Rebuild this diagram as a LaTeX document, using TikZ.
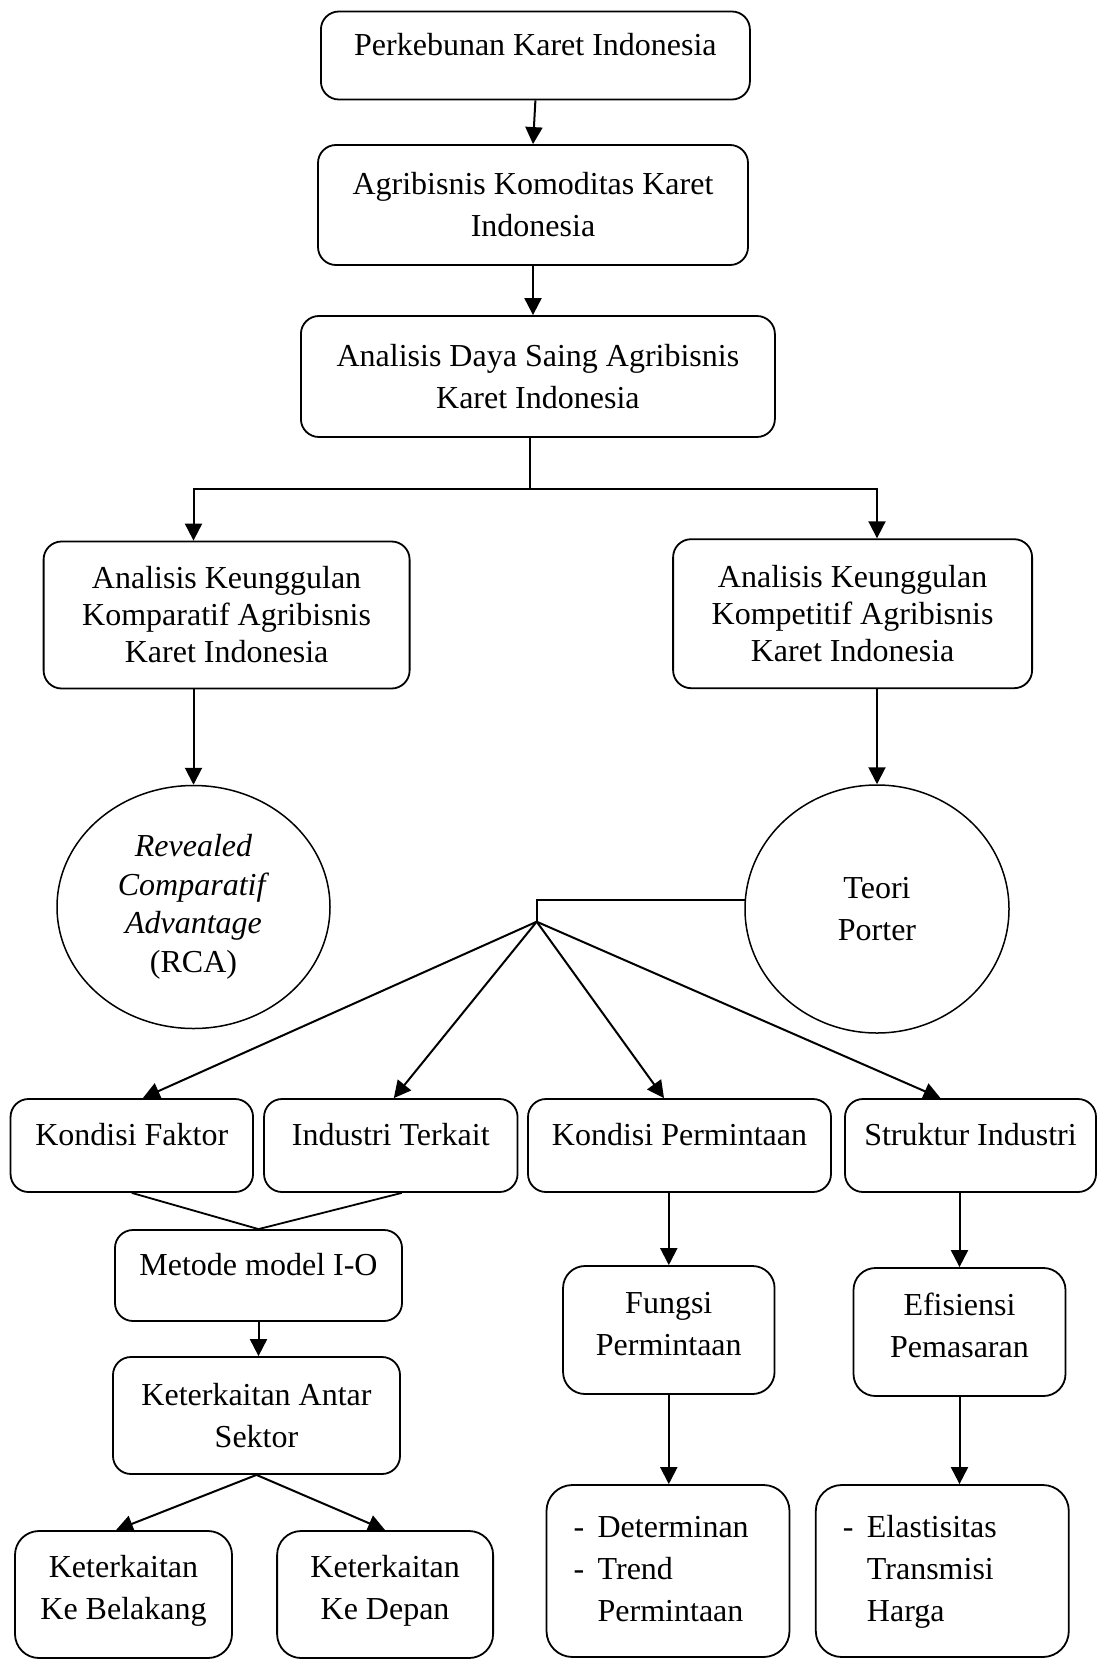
\documentclass[tikz,border=0pt]{standalone}
\usepackage{fontspec}
\setmainfont{Liberation Serif}
\usetikzlibrary{shapes.geometric, arrows.meta}

\tikzset{
    kotak/.style={draw, rounded corners=18pt, line width=1.8pt, align=center, inner sep=0pt},
    satu/.style={text height=20pt, text depth=20pt},
    bulat/.style={draw, ellipse, line width=1.5pt, align=center, inner sep=0pt},
    daftar/.style={kotak, rounded corners=26pt, align=left, inner xsep=27pt, minimum height=172pt},
    panah/.style={->, line width=2pt},
    garis/.style={line width=1.8pt},
}

\begin{document}
\begin{tikzpicture}[x=1pt, y=-1pt, >={Triangle[length=17pt, width=17pt]},
    every node/.style={font=\fontsize{32}{42}\selectfont}]
    \useasboundingbox (0,0) rectangle (1097,1659);

    % top chain
    \node[kotak, satu, minimum width=429pt, minimum height=88pt] (kebun) at (535.4,55.5) {Perkebunan Karet Indonesia};
    \node[kotak, minimum width=430pt, minimum height=120pt] (agri) at (533,205) {Agribisnis Komoditas Karet\\Indonesia};
    \node[kotak, minimum width=474pt, minimum height=121pt] (saing) at (537.9,376.5) {Analisis Daya Saing Agribisnis\\Karet Indonesia};

    % the two analyses
    \node[kotak, minimum width=366pt, minimum height=147pt, font=\fontsize{32}{37}\selectfont] (komp) at (226.6,615) {Analisis Keunggulan\\Komparatif Agribisnis\\Karet Indonesia};
    \node[kotak, minimum width=359pt, minimum height=149pt, font=\fontsize{32}{37}\selectfont] (kompe) at (852.6,613.7) {Analisis Keunggulan\\Kompetitif Agribisnis\\Karet Indonesia};

    % methods
    \node[bulat, minimum width=273pt, minimum height=243pt, font=\fontsize{32}{38.5}\selectfont] (rca) at (193.5,907) {\textit{Revealed}\\\textit{Comparatif}\\\textit{Advantage}\\(RCA)};
    \node[bulat, minimum width=264pt, minimum height=248pt] (porter) at (877,909) {Teori\\Porter};

    % porter factors
    \node[kotak, satu, minimum width=242.5pt, minimum height=93pt] (faktor) at (131.8,1145.5) {Kondisi Faktor};
    \node[kotak, satu, minimum width=253.5pt, minimum height=93pt] (terkait) at (390.8,1145.5) {Industri Terkait};
    \node[kotak, satu, minimum width=303pt, minimum height=93pt] (minta) at (679.5,1145.5) {Kondisi Permintaan};
    \node[kotak, satu, minimum width=251pt, minimum height=93pt] (struktur) at (970.5,1145.5) {Struktur Industri};

    % left branch
    \node[kotak, satu, minimum width=287pt, minimum height=91pt] (io) at (258.5,1275.5) {Metode model I-O};
    \node[kotak, minimum width=287pt, minimum height=117pt] (antar) at (256.5,1415.5) {Keterkaitan Antar\\Sektor};
    \node[kotak, rounded corners=24pt, text depth=15pt, minimum width=217pt, minimum height=127pt] (belakang) at (123.5,1594.5) {Keterkaitan\\Ke Belakang};
    \node[kotak, rounded corners=24pt, text depth=15pt, minimum width=216pt, minimum height=127pt] (depan) at (385.1,1594.5) {Keterkaitan\\Ke Depan};

    % right branches
    \node[kotak, rounded corners=22pt, text depth=13pt, minimum width=211.5pt, minimum height=128pt] (fungsi) at (668.8,1330) {Fungsi\\Permintaan};
    \node[kotak, rounded corners=22pt, text depth=14pt, minimum width=212pt, minimum height=128pt] (efisien) at (959.5,1332) {Efisiensi\\Pemasaran};
    \node[daftar, text width=189pt] (determinan) at (668,1571) {\noindent\begin{tabular}{@{}l@{\hspace{13.5pt}}l@{}}
        - & Determinan\\ - & Trend\\ & Permintaan\end{tabular}};
    \node[daftar, text width=199pt] (elastis) at (942.3,1571) {\noindent\begin{tabular}{@{}l@{\hspace{13.5pt}}l@{}}
        - & Elastisitas\\ & Transmisi\\ & Harga\end{tabular}};

    % arrows
    \draw[panah] (kebun.south) -- (agri.north);
    \draw[panah] (agri.south) -- (agri.south |- saing.north);

    \coordinate (bagi) at (529.6,489);
    \draw[garis] (bagi |- saing.south) -- (bagi);
    \draw[panah] (bagi) -| (komp.north -| rca.north);
    \draw[panah] (bagi) -| (kompe.north -| porter.north);
    \draw[panah] (rca.north |- komp.south) -- (rca.north);
    \draw[panah] (porter.north |- kompe.south) -- (porter.north);

    \coordinate (pusat) at (536.7,921.7);
    \draw[garis] (porter.176) -| (pusat);
    \foreach \n/\s in {faktor/11, terkait/3, minta/-15.5, struktur/-30}
        \draw[panah] (pusat) -- ([xshift=\s pt]\n.north);

    \draw[garis] (faktor.south) -- (io.north);
    \draw[garis] ([xshift=11pt]terkait.south) -- (io.north);
    \draw[panah] (io.south) -- (io.south |- antar.north);
    \draw[panah] (antar.south) -- ([xshift=-7.5pt]belakang.north);
    \draw[panah] (antar.south) -- (depan.north);

    \draw[panah] (fungsi.north |- minta.south) -- (fungsi.north);
    \draw[panah] (fungsi.south) -- (fungsi.south |- determinan.north);
    \draw[panah] (efisien.north |- struktur.south) -- (efisien.north);
    \draw[panah] (efisien.south) -- (efisien.south |- elastis.north);
\end{tikzpicture}
\end{document}
